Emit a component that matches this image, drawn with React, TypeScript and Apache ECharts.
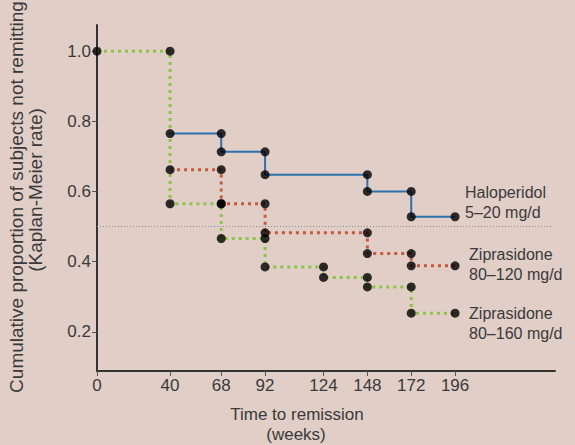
import React, { useEffect, useRef } from "react";
import * as echarts from "echarts";

// Tick labels
const weekTicks = [0, 40, 68, 92, 124, 148, 172, 196];
const rateTicks = [0.2, 0.4, 0.6, 0.8, 1.0];

// Kaplan-Meier steps: rate holds from weeks[i] until weeks[i+1]
const haloWeeks = [40, 68, 92, 148, 172, 196];
const haloRates = [0.765, 0.713, 0.648, 0.6, 0.528];
const zip120Weeks = [40, 68, 92, 148, 172, 196];
const zip120Rates = [0.662, 0.565, 0.482, 0.423, 0.388];
const zip160Weeks = [0, 40, 68, 92, 124, 148, 172, 196];
const zip160Rates = [1.0, 0.565, 0.466, 0.385, 0.355, 0.328, 0.253];

const referenceRate = 0.5;

const seriesNames = ["Haloperidol\n5–20 mg/d", "Ziprasidone\n80–120 mg/d", "Ziprasidone\n80–160 mg/d"];

function steps(weeks: number[], rates: number[]) {
  const pts: number[][] = [];
  for (let i = 0; i < rates.length; i++) {
    pts.push([weeks[i], rates[i]]);
    pts.push([weeks[i + 1], rates[i]]);
  }
  return pts;
}

const FONT = "'Liberation Sans', Arial, Helvetica, sans-serif";
const TXT = "#3a3a3a";

export default function App() {
  const ref = useRef<HTMLDivElement>(null);
  useEffect(() => {
    document.body.style.margin = "0";
    const chart = echarts.init(ref.current!, null, { renderer: "svg" });
    const halo = steps(haloWeeks, haloRates);
    const z120 = steps(zip120Weeks, zip120Rates);
    const z160 = steps(zip160Weeks, zip160Rates);
    const labelBase = {
      show: true,
      fontFamily: FONT,
      fontSize: 16,
      lineHeight: 20,
      color: TXT,
      distance: 10,
      align: "left",
      verticalAlign: "middle",
    };
    chart.setOption({
      animation: false,
      backgroundColor: "#e0cec7",
      textStyle: { fontFamily: FONT },
      grid: { left: 97, right: 20, top: 25, bottom: 74, containLabel: false, outerBoundsMode: "none" },
      xAxis: {
        type: "value",
        min: 0,
        max: 250.7,
        splitLine: { show: false },
        axisLine: { show: true, lineStyle: { color: "#333", width: 2 } },
        axisTick: { show: true, length: 5, customValues: weekTicks, lineStyle: { color: "#555", width: 1 } },
        axisLabel: { customValues: weekTicks, fontSize: 17, color: TXT, margin: 6, fontFamily: FONT },
      },
      yAxis: {
        type: "value",
        min: 0.0882,
        max: 1.0746,
        splitLine: { show: false },
        axisLine: { show: true, lineStyle: { color: "#333", width: 2 } },
        axisTick: { show: true, length: 5, customValues: rateTicks, lineStyle: { color: "#555", width: 1 } },
        axisLabel: {
          customValues: rateTicks,
          fontSize: 17,
          color: TXT,
          margin: 6,
          fontFamily: FONT,
          formatter: (v: number) => v.toFixed(1),
        },
      },
      graphic: [
        {
          type: "text",
          x: 16,
          y: 197,
          rotation: Math.PI / 2,
          style: {
            text: "Cumulative proportion of subjects not remitting",
            fontSize: 19,
            fontFamily: FONT,
            fill: TXT,
            textAlign: "center",
            textVerticalAlign: "middle",
          },
        },
        {
          type: "text",
          x: 35,
          y: 190,
          rotation: Math.PI / 2,
          style: {
            text: "(Kaplan-Meier rate)",
            fontSize: 19,
            fontFamily: FONT,
            fill: TXT,
            textAlign: "center",
            textVerticalAlign: "middle",
          },
        },
        {
          type: "text",
          x: 297,
          y: 414,
          style: { text: "Time to remission", fontSize: 17, fontFamily: FONT, fill: TXT, textAlign: "center", textVerticalAlign: "middle" },
        },
        {
          type: "text",
          x: 296,
          y: 434,
          style: { text: "(weeks)", fontSize: 17, fontFamily: FONT, fill: TXT, textAlign: "center", textVerticalAlign: "middle" },
        },
      ],
      series: [
        {
          name: "ref",
          type: "line",
          data: [],
          silent: true,
          markLine: {
            silent: true,
            symbol: "none",
            label: { show: false },
            lineStyle: { type: [1, 2], color: "#8a8a8a", width: 1 },
            data: [[{ coord: [0, referenceRate] }, { coord: [249, referenceRate] }]],
          },
        },
        {
          name: seriesNames[0],
          type: "line",
          data: halo,
          showSymbol: false,
          symbol: "none",
          z: 2,
          lineStyle: { color: "#2d72ad", width: 2 },
          endLabel: { ...labelBase, formatter: seriesNames[0], offset: [0, -14] },
        },
        {
          name: seriesNames[1],
          type: "line",
          data: z120,
          showSymbol: false,
          symbol: "none",
          z: 2,
          lineStyle: { color: "#c65a3c", width: 3, type: [3, 4], cap: "butt" },
          endLabel: { ...labelBase, formatter: seriesNames[1], offset: [4, -1] },
        },
        {
          name: seriesNames[2],
          type: "line",
          data: z160,
          showSymbol: false,
          symbol: "none",
          z: 2,
          lineStyle: { color: "#8cc446", width: 3, type: [3, 4], cap: "butt" },
          endLabel: { ...labelBase, formatter: seriesNames[2], offset: [4, 10] },
        },
        {
          name: "points",
          type: "scatter",
          z: 4,
          symbol: "circle",
          symbolSize: 9,
          itemStyle: { color: "#000" },
          data: [...halo, ...z120, ...z160],
        },
      ],
    });
    return () => chart.dispose();
  }, []);
  return <div ref={ref} style={{ width: 575, height: 445, position: "absolute", left: 0, top: 0 }} />;
}
